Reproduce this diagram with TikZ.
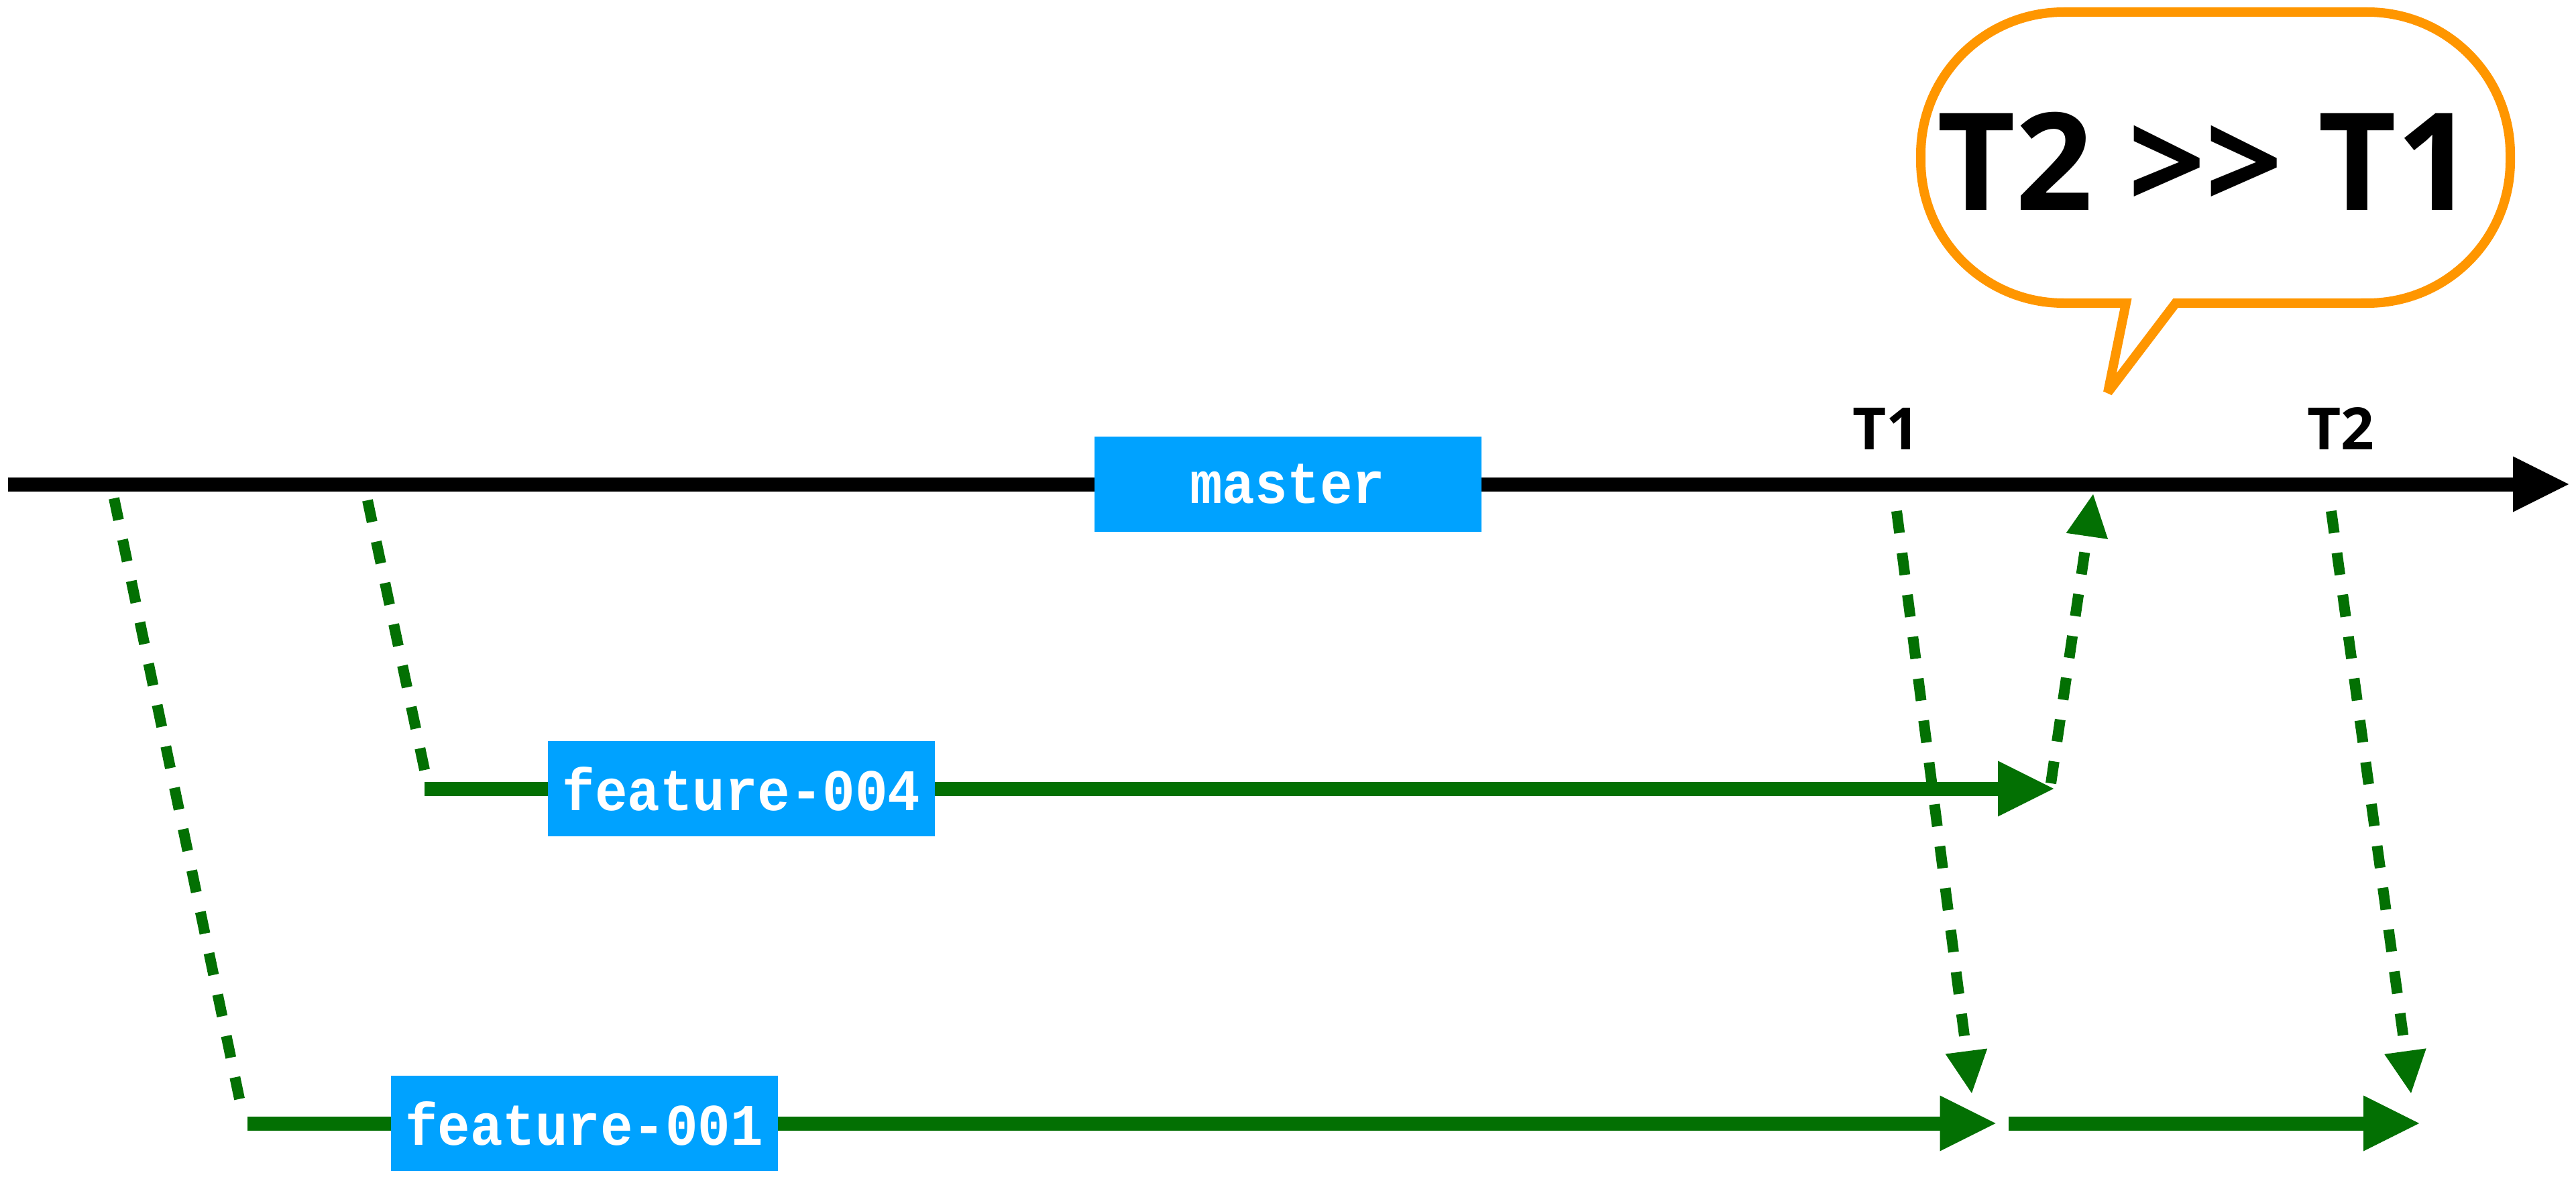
\documentclass[tikz,border=0pt]{standalone}
\usepackage{fontspec}
\setmainfont{Open Sans}
\newfontfamily\branchmono{Liberation Mono}[FakeStretch=0.92]
\usetikzlibrary{arrows.meta}

\definecolor{Cbranchblue}{HTML}{00A2FF}
\definecolor{Cmergegreen}{HTML}{037003}
\definecolor{Cnoteorange}{HTML}{FF9600}

\begin{document}
\begin{tikzpicture}[
		branchbox/.style={fill=Cbranchblue,text=white,inner sep=0pt,
			font=\branchmono\bfseries\fontsize{25}{25}\selectfont,
			minimum width=5.77cm,minimum height=1.42cm},
		trunkline/.style={line width=0.21cm,
			-{Triangle[length=0.83cm,width=0.83cm,line width=0pt]}},
		branchline/.style={Cmergegreen,line width=0.21cm,
			-{Triangle[length=0.83cm,width=0.83cm,line width=0pt]}},
		forkline/.style={Cmergegreen,line width=0.16cm,
			dash pattern=on 0.33cm off 0.30cm},
		mergeline/.style={forkline,
			-{Triangle[length=0.63cm,width=0.63cm,line width=0pt]}},
		ticklabel/.style={font=\bfseries\fontsize{24.75}{25}\selectfont,anchor=base,inner sep=0pt},
	]
		\useasboundingbox (0,0) rectangle (38.41,-17.58);

		% master timeline
		\coordinate (m0) at (0.12,-7.22);
		\coordinate (mend) at (38.30,-7.22);
		\draw[trunkline] (m0) -- (mend);

		% branch points and merge points
		\coordinate (fork1) at (1.70,-7.43);
		\coordinate (fork1end) at (3.63,-16.67);
		\coordinate (fork4) at (5.48,-7.46);
		\coordinate (fork4end) at (6.36,-11.62);
		\coordinate (f1a) at (3.69,-16.75);
		\coordinate (f1b) at (29.755,-16.75);
		\coordinate (f1c) at (29.95,-16.75);
		\coordinate (f1d) at (36.07,-16.75);
		\coordinate (f4a) at (6.33,-11.76);
		\coordinate (f4b) at (30.62,-11.76);
		\coordinate (t1top) at (28.28,-7.62);
		\coordinate (t1hit) at (29.40,-16.30);
		\coordinate (t2top) at (34.76,-7.62);
		\coordinate (t2hit) at (35.95,-16.30);
		\coordinate (backfoot) at (30.58,-11.68);
		\coordinate (back) at (31.21,-7.37);

		\draw[branchline] (f4a) -- (f4b);
		\draw[branchline] (f1a) -- (f1b);
		\draw[branchline] (f1c) -- (f1d);

		\draw[forkline] (fork1) -- (fork1end);
		\draw[forkline] (fork4) -- (fork4end);
		\draw[mergeline] (t1top) -- (t1hit);
		\draw[mergeline] (t2top) -- (t2hit);
		\draw[mergeline] (backfoot) -- (back);

		\node[branchbox] (master) at (19.20,-7.22) {master};
		\node[branchbox] (f004) at (11.055,-11.76) {feature-004};
		\node[branchbox] (f001) at (8.71,-16.75) {feature-001};

		\node[ticklabel] (t1) at (28.12,-6.70) {T1};
		\node[ticklabel] (t2) at (34.90,-6.70) {T2};

		% speech bubble
		\draw[Cnoteorange,line width=0.14cm,miter limit=2,fill=white]
		(31.70,-4.52) -- (30.77,-4.52)
		arc[start angle=270,end angle=180,x radius=2.13cm,y radius=2.12cm]
		-- (28.64,-2.30)
		arc[start angle=180,end angle=90,x radius=2.13cm,y radius=2.12cm]
		-- (35.30,-0.18)
		arc[start angle=90,end angle=0,x radius=2.13cm,y radius=2.12cm]
		-- (37.43,-2.40)
		arc[start angle=0,end angle=-90,x radius=2.13cm,y radius=2.12cm]
		-- (32.44,-4.52) -- (31.43,-5.85) -- cycle;
		\node[font=\bfseries\fontsize{57.5}{58}\selectfont,anchor=base,inner sep=0pt]
		(verdict) at (32.89,-3.13) {T2 >{}> T1};
	\end{tikzpicture}
\end{document}
